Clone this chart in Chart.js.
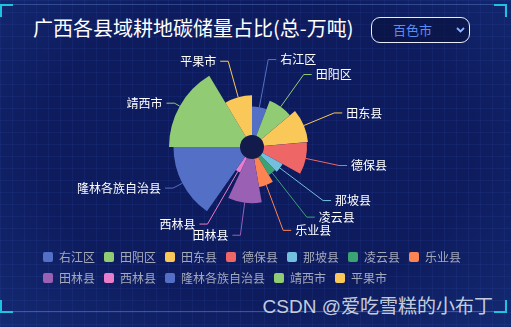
<!DOCTYPE html>
<html>
<head>
<meta charset="utf-8">
<script src="https://cdn.jsdelivr.net/npm/chart.js@4.4.1/dist/chart.umd.min.js"></script>
<style>
  html, body { margin: 0; padding: 0; }
  body { width: 511px; height: 327px; overflow: hidden; position: relative;
    background: #0b1850; font-family: "Noto Sans CJK SC", sans-serif; }
  #panel { position: absolute; left: 0; top: 0; width: 511px; height: 327px;
    background:
      linear-gradient(rgba(90,130,255,0.07) 1px, transparent 1px) 0 0 / 12px 12px,
      linear-gradient(90deg, rgba(90,130,255,0.07) 1px, transparent 1px) 0 0 / 12px 12px,
      radial-gradient(ellipse at 50% 45%, #0d1a5c 0%, #0e1c5e 60%, #142a72 100%); }
  #frame { position: absolute; left: 0; top: 4px; width: 505px; height: 306px;
    border-top: 1px solid rgba(110,150,230,0.35); border-bottom: 1px solid rgba(110,150,230,0.45); }
  .corner { position: absolute; width: 11px; height: 11px; border-color: #1fc3e0; border-style: solid; border-width: 0; }
  #c1 { left: 0; top: 4px; border-top-width: 2px; border-left-width: 2px; }
  #c2 { left: 494px; top: 4px; border-top-width: 2px; border-right-width: 2px; }
  #c3 { left: 0; top: 300px; border-bottom-width: 2px; border-left-width: 2px; }
  #c4 { left: 494px; top: 300px; border-bottom-width: 2px; border-right-width: 2px; }
  #title { position: absolute; left: 33px; top: 13px; line-height: 30px; font-size: 20px; color: #ffffff; white-space: nowrap; }
  #select { position: absolute; left: 371px; top: 17px; width: 97px; height: 24px;
    border: 1.6px solid #e8edf7; border-radius: 9px; background: rgba(8,16,60,0.6); }
  #select span { position: absolute; left: 21px; top: 0; line-height: 24px; font-size: 13px; color: #5a8cf5; }
  #select svg { position: absolute; left: 84px; top: 9px; }
  #wm { position: absolute; right: 18px; top: 295px; font-size: 19px; line-height: 24px; color: rgba(222,226,236,0.9);
    font-family: "Liberation Sans", "Noto Sans CJK SC", sans-serif; white-space: nowrap; }
  canvas { position: absolute; left: 0; top: 0; }
</style>
</head>
<body>
<div id="panel"></div>
<div id="frame"></div>
<div class="corner" id="c1"></div><div class="corner" id="c2"></div>
<div class="corner" id="c3"></div><div class="corner" id="c4"></div>
<div id="title">广西各县域耕地碳储量占比(总-万吨)</div>
<div id="select"><span>百色市</span><svg width="9" height="6" viewBox="0 0 9 6"><polyline points="1,1 4.5,4.5 8,1" fill="none" stroke="#8db3ff" stroke-width="1.8"/></svg></div>
<div id="wm">CSDN @爱吃雪糕的小布丁</div>
<canvas id="chart" width="511" height="327"></canvas>
<script>
// ---- data (万吨) ----
const labels = ['右江区', '田阳区', '田东县', '德保县', '那坡县', '凌云县', '乐业县', '田林县', '西林县', '隆林各族自治县', '靖西市', '平果市'];
const values = [1050, 1450, 1750, 1700, 800, 700, 1050, 1750, 500, 2750, 2950, 1550];
const colors = ['#5470c6', '#91cc75', '#fac858', '#ee6666', '#73c0de', '#3ba272', '#fc8452', '#9a60b4', '#ea7ccc', '#5470c6', '#91cc75', '#fac858'];

const total = values.reduce((a, b) => a + b, 0);
const vMax = Math.max(...values);
const R_ZERO = 17;   // radius (px) a zero value would get
const R_MAX = 83;    // radius (px) of the largest value

const roseLabels = {
  id: 'roseLabels',
  afterDatasetsDraw(chart) {
    const meta = chart.getDatasetMeta(0);
    const scale = chart.scales.r;
    const ctx = chart.ctx;
    ctx.save();
    // centre hole
    ctx.fillStyle = '#131b4c';
    ctx.beginPath();
    ctx.arc(scale.xCenter, scale.yCenter, 12, 0, Math.PI * 2);
    ctx.fill();
    let rMax = 0;
    meta.data.forEach(a => { rMax = Math.max(rMax, a.outerRadius); });
    const rA = rMax + 6;
    meta.data.forEach((arc, i) => {
      const p = arc.getProps(['x', 'y', 'startAngle', 'endAngle', 'outerRadius'], true);
      const mid = (p.startAngle + p.endAngle) / 2;
      const dx = Math.cos(mid), dy = Math.sin(mid);
      const side = dx < 0 ? -1 : 1;
      const x1 = p.x + p.outerRadius * dx, y1 = p.y + p.outerRadius * dy;
      const x2 = p.x + rA * dx, y2 = p.y + rA * dy;
      const x3 = x2 + side * 8;
      ctx.strokeStyle = colors[i];
      ctx.lineWidth = 1;
      ctx.beginPath();
      ctx.moveTo(x1, y1); ctx.lineTo(x2, y2); ctx.lineTo(x3, y2);
      ctx.stroke();
      ctx.fillStyle = '#ffffff';
      ctx.font = '12px "Noto Sans CJK SC", sans-serif';
      ctx.textAlign = side < 0 ? 'right' : 'left';
      ctx.textBaseline = 'middle';
      ctx.fillText(labels[i], x3 + side * 4, y2);
    });
    ctx.restore();
  }
};

Chart.defaults.font.family = '"Noto Sans CJK SC", sans-serif';

new Chart(document.getElementById('chart'), {
  type: 'polarArea',
  data: {
    labels: labels,
    datasets: [{
      data: values,
      backgroundColor: colors,
      borderWidth: 0,
      angle: (c) => values[c.dataIndex] / total * 360
    }]
  },
  options: {
    responsive: false,
    animation: false,
    layout: { padding: { left: 34, right: 40, top: 52, bottom: 33 } },
    scales: {
      r: {
        startAngle: 0,
        bounds: 'data',
        ticks: { display: false },
        grid: { display: false },
        angleLines: { display: false },
        pointLabels: { display: false },
        afterDataLimits(scale) {
          const D = scale.drawingArea;
          const k = (R_MAX - R_ZERO) / vMax;
          scale.min = -R_ZERO / k;
          scale.max = scale.min + D / k;
        }
      }
    },
    plugins: {
      tooltip: { enabled: false },
      legend: {
        position: 'bottom',
        align: 'start',
        labels: {
          color: '#a4a9ba',
          font: { size: 12 },
          boxWidth: 10,
          boxHeight: 10,
          padding: 9,
          useBorderRadius: true,
          borderRadius: 2,
          generateLabels(chart) {
            const base = Chart.overrides.polarArea.plugins.legend.labels.generateLabels(chart);
            return base.map(it => Object.assign(it, { borderRadius: 2, lineWidth: 0 }));
          }
        }
      }
    }
  },
  plugins: [roseLabels]
});
</script>
</body>
</html>
